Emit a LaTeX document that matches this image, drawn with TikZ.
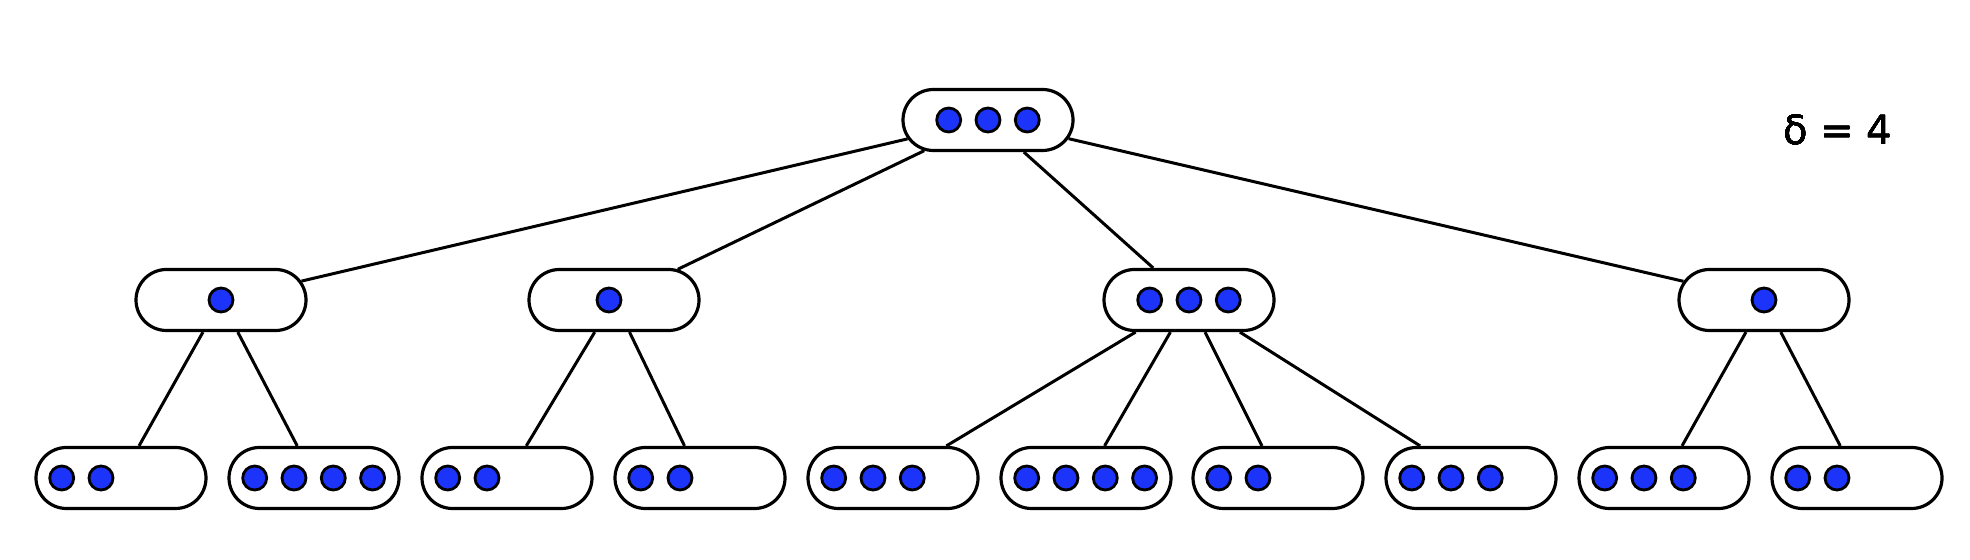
\documentclass[tikz,border=0pt]{standalone}
\usepackage{fontspec}
\newfontfamily\labelfont{DejaVu Sans}
\usepackage{tikz}
\usetikzlibrary{shapes.misc,calc}
\definecolor{cle}{RGB}{28,52,250}

\tikzset{
  btnode/.style={rounded rectangle,draw,line width=1.6pt,
                 minimum width=85pt,minimum height=30.5pt,inner sep=0pt},
  keydot/.style={draw,fill=cle,line width=1.4pt},
  lien/.style={line width=1.5pt}
}
% dots of a node: node, offset of first dot from centre (px), count
\newcommand{\keydots}[3]{%
  \foreach \k in {1,...,#3}
    \draw[keydot] ($(#1)+({#2+39.3*(\k-1)},0)$) circle[radius=6pt];}

\begin{document}
\begin{tikzpicture}[x=0.5pt,y=-0.5pt]
  \useasboundingbox (0,0) rectangle (1970,560);
  % root and second level
  \node[btnode] (racine) at (988,120) {};
  \node[btnode] (n1) at (221,300) {};
  \node[btnode] (n2) at (614,300) {};
  \node[btnode] (n3) at (1189,300) {};
  \node[btnode] (n4) at (1764,300) {};
  % leaves
  \foreach \i/\x in {1/121,2/314,3/507,4/700,5/893,6/1086,7/1278,8/1471,9/1664,10/1857}
    \node[btnode] (f\i) at (\x,478) {};
  % edges
  \foreach \c in {n1,n2,n3,n4} \draw[lien] (racine) -- (\c);
  \draw[lien] (n1) -- (f1);  \draw[lien] (n1) -- (f2);
  \draw[lien] (n2) -- (f3);  \draw[lien] (n2) -- (f4);
  \draw[lien] (n3) -- (f5);  \draw[lien] (n3) -- (f6);
  \draw[lien] (n3) -- (f7);  \draw[lien] (n3) -- (f8);
  \draw[lien] (n4) -- (f9);  \draw[lien] (n4) -- (f10);
  % keys
  \keydots{racine}{-39.3}{3}
  \keydots{n1}{0}{1}
  \keydots{n2}{-5}{1}
  \keydots{n3}{-39.3}{3}
  \keydots{n4}{0}{1}
  \foreach \f/\n in {f1/2,f2/4,f3/2,f4/2,f5/3,f6/4,f7/2,f8/3,f9/3,f10/2}
    \keydots{\f}{-59.3}{\n}
  \node[anchor=base,font=\labelfont\fontsize{20}{22}\selectfont] (delta) at (1838,145) {δ = 4};
\end{tikzpicture}
\end{document}
